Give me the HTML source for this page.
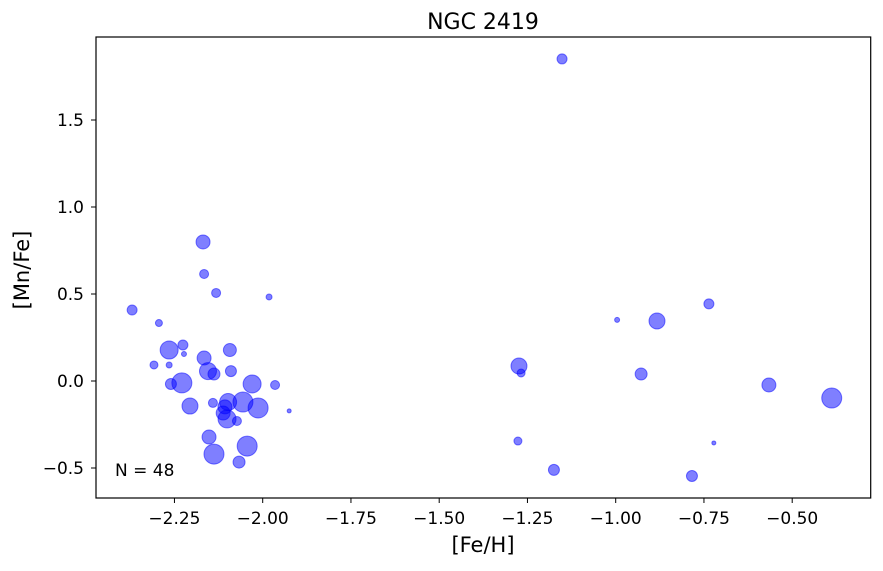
<!DOCTYPE html>
<html><head><meta charset="utf-8"><style>
body{margin:0;background:#fff;width:883px;height:566px;overflow:hidden}
text{font-family:"DejaVu Sans","Liberation Sans",sans-serif;fill:#000}
</style></head><body>
<svg id="chart" width="883" height="566" viewBox="0 0 883 566" xmlns="http://www.w3.org/2000/svg">
<text x="483" y="29" font-size="22" text-anchor="middle">NGC 2419</text>
<rect x="96" y="37" width="774.7" height="461" fill="none" stroke="#000" stroke-width="1.2"/>
<g id="xt"></g><g id="yt"></g><g id="pts"></g>
<text x="483" y="552" font-size="21" text-anchor="middle">[Fe/H]</text>
<text transform="translate(29,270) rotate(-90)" font-size="21" text-anchor="middle">[Mn/Fe]</text>
<text x="115" y="476" font-size="17">N = 48</text>
</svg>
<script>
const feH=[-2.169,-2.166,-2.132,-1.982,-2.370,-2.294,-2.265,-2.226,-2.223,-2.093,-2.166,-2.308,-2.265,-2.155,-2.138,-2.090,-2.229,-2.260,-2.030,-1.965,-2.206,-2.141,-2.098,-2.056,-2.013,-1.925,-2.107,-2.112,-2.101,-2.073,-2.152,-2.044,-2.138,-2.067,
-0.736,-0.996,-0.883,-1.274,-1.268,-0.928,-0.566,-0.388,-1.277,-0.722,-1.175,-0.784,-1.152];
const mnFe=[0.799,0.615,0.506,0.483,0.408,0.333,0.178,0.207,0.155,0.178,0.132,0.092,0.092,0.057,0.040,0.057,-0.011,-0.017,-0.017,-0.023,-0.144,-0.126,-0.121,-0.121,-0.155,-0.172,-0.149,-0.184,-0.218,-0.230,-0.322,-0.374,-0.420,-0.466,
0.443,0.351,0.345,0.086,0.046,0.040,-0.023,-0.098,-0.345,-0.356,-0.511,-0.546,1.851];
const sizes=[7,4.5,4.5,3,5,3.5,9,5,2.5,6.5,7,4,3,8.5,6,5.5,10,5.5,9,4.5,8,4.5,8.5,10,10,2,7,7,9,4.5,7,10,10,6,
5,2.5,8,8,4,6,7,10,4,2,5.5,5.5,5];
const xTicks=[-2.25,-2.00,-1.75,-1.50,-1.25,-1.00,-0.75,-0.50];
const yTicks=[-0.5,0.0,0.5,1.0,1.5];
const NS="http://www.w3.org/2000/svg";
function xs(v){return 262.7+(v+2)*353;}
function ys(v){return 381-v*174;}
function mk(t,a,p){const e=document.createElementNS(NS,t);for(const k in a)e.setAttribute(k,a[k]);p.appendChild(e);return e;}
const xt=document.getElementById('xt'),yt=document.getElementById('yt'),pts=document.getElementById('pts');
xTicks.forEach(v=>{const x=xs(v);
const l=mk('line',{x1:x,x2:x,y1:498,y2:503,stroke:'#000','stroke-width':1},xt);


const t=mk('text',{x:x,y:524,'font-size':17,'text-anchor':'middle'},xt);t.textContent='\u2212'+Math.abs(v).toFixed(2);

});
yTicks.forEach(v=>{const y=ys(v);
const l=mk('line',{x1:91,x2:96,y1:y,y2:y,stroke:'#000','stroke-width':1},yt);


const t=mk('text',{x:84,y:y+6.2,'font-size':17,'text-anchor':'end'},yt);t.textContent=(v<0?'\u2212':'')+Math.abs(v).toFixed(1);

});
feH.forEach((f,i)=>{const c=mk('circle',{cx:xs(f),cy:ys(mnFe[i]),r:sizes[i],fill:'rgba(0,0,255,0.5)',stroke:'rgba(0,0,255,0.5)','stroke-width':1},pts);

});
</script>
</body></html>
